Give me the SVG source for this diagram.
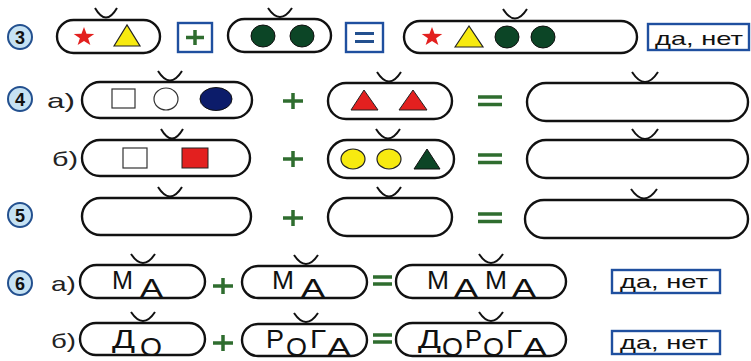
<svg xmlns="http://www.w3.org/2000/svg" width="751" height="361" viewBox="0 0 751 361">
<style>
.bg{fill:#ffffff}
.pill{fill:#ffffff;stroke:#111;stroke-width:2.4}
.cup{fill:none;stroke:#111;stroke-width:2}
.nc{fill:#c6e2f3;stroke:#23508f;stroke-width:2}
.nt{font-family:"Liberation Sans",Arial,sans-serif;font-weight:bold;font-size:18px;fill:#111;text-anchor:middle}
.lbl{font-family:"Liberation Sans",Arial,sans-serif;font-size:21px;fill:#222}
.let{font-family:"Liberation Sans",Arial,sans-serif;font-size:25px;fill:#111}
.op{fill:none;stroke:#2f6d2f;stroke-width:3.5}
.opb{fill:none;stroke:#23508f;stroke-width:3}
.box{fill:#ffffff;stroke:#1f4f9f;stroke-width:2.4}
.bt{font-family:"Liberation Sans",Arial,sans-serif;font-size:19px;fill:#111}
.red{fill:#e3201f;stroke:#222;stroke-width:1}
.yel{fill:#f7ea10;stroke:#222;stroke-width:1.2}
.dg{fill:#0c4526;stroke:#111;stroke-width:1}
.nav{fill:#0c1c6a;stroke:#111;stroke-width:1}
.wh{fill:#ffffff;stroke:#333;stroke-width:1.2}
</style>
<defs>
<path id="star" d="M0,-9 L2.12,-2.91 L8.56,-2.78 L3.42,1.11 L5.29,7.28 L0,3.6 L-5.29,7.28 L-3.42,1.11 L-8.56,-2.78 L-2.12,-2.91 Z"/>
</defs>
<rect class="bg" x="0" y="0" width="751" height="361"/>

<!-- Row 3 -->
<g id="n3">
<circle class="nc" cx="20" cy="37" r="12"/><text class="nt" x="20" y="43.5">3</text>
</g>
<g id="r3p1">
<rect class="pill" x="57" y="20" width="103" height="33" rx="16.5"/>
<path class="cup" d="M95,8 Q106,27 117,8"/>
<use href="#star" transform="translate(84,37) scale(1.2,1.1)" fill="#e3201f"/>
<polygon class="yel" points="114,46 127,25 140,46"/>
</g>
<g id="r3plus">
<rect class="box" x="178" y="23" width="34" height="29"/>
<path class="op" d="M186,37.5 H204 M195,30 V45"/>
</g>
<g id="r3p2">
<rect class="pill" x="228" y="19" width="103" height="33" rx="16.5"/>
<path class="cup" d="M268,8 Q280,26 292,8"/>
<ellipse class="dg" cx="263" cy="36" rx="12" ry="11"/>
<ellipse class="dg" cx="302" cy="36" rx="12" ry="11"/>
</g>
<g id="r3eq">
<rect class="box" x="346" y="23" width="37" height="29"/>
<path class="opb" d="M355,33.5 H374 M355,41.5 H374"/>
</g>
<g id="r3p3">
<rect class="pill" x="404" y="21" width="233" height="32" rx="16"/>
<path class="cup" d="M503,9 Q515,28 527,9"/>
<use href="#star" transform="translate(432,37) scale(1.2,1.1)" fill="#e3201f"/>
<polygon class="yel" points="455,47 469,26 483,47"/>
<ellipse class="dg" cx="507" cy="37" rx="12" ry="11"/>
<ellipse class="dg" cx="543" cy="37" rx="12" ry="11"/>
</g>
<g id="r3ans">
<rect class="box" x="648" y="24" width="101" height="26"/>
<text class="bt" x="655" y="44.5" font-size="20" textLength="88" lengthAdjust="spacingAndGlyphs">да,  нет</text>
</g>

<!-- Row 4a -->
<g id="n4">
<circle class="nc" cx="20" cy="99" r="12"/><text class="nt" x="20" y="105.5">4</text>
<text class="lbl" x="47" y="108" textLength="28" lengthAdjust="spacingAndGlyphs">а)</text>
</g>
<g id="r4ap1">
<rect class="pill" x="82" y="82" width="170" height="36" rx="18"/>
<path class="cup" d="M158,71 Q170,90 182,71"/>
<rect class="wh" x="112" y="89" width="23" height="19"/>
<ellipse class="wh" cx="166" cy="99" rx="12" ry="11"/>
<ellipse class="nav" cx="216" cy="99" rx="16" ry="11.5"/>
</g>
<g id="r4aplus"><path class="op" d="M283,101 H303 M293,93 V109"/></g>
<g id="r4ap2">
<rect class="pill" x="328" y="83" width="124" height="36" rx="18"/>
<path class="cup" d="M377,72 Q389,91 401,72"/>
<polygon class="red" points="351,110 364,90 378,110"/>
<polygon class="red" points="399,110 413,90 427,110"/>
</g>
<g id="r4aeq"><path class="op" d="M478,97 H502 M478,104.5 H502"/></g>
<g id="r4ap3">
<rect class="pill" x="527" y="83" width="221" height="38" rx="19"/>
<path class="cup" d="M632,72 Q645,92 658,72"/>
</g>

<!-- Row 4b -->
<g id="n4b"><text class="lbl" x="52" y="166" textLength="26" lengthAdjust="spacingAndGlyphs">б)</text></g>
<g id="r4bp1">
<rect class="pill" x="82" y="140" width="168" height="36" rx="18"/>
<path class="cup" d="M161,129 Q172,148 183,129"/>
<rect class="wh" x="123" y="148" width="24" height="20"/>
<rect class="red" x="182" y="148" width="26" height="20"/>
</g>
<g id="r4bplus"><path class="op" d="M283,159 H303 M293,151 V167"/></g>
<g id="r4bp2">
<rect class="pill" x="328" y="140" width="126" height="38" rx="19"/>
<path class="cup" d="M376,129 Q388,148 400,129"/>
<ellipse class="yel" cx="353" cy="159" rx="12" ry="10"/>
<ellipse class="yel" cx="389" cy="159" rx="12" ry="10"/>
<polygon class="dg" points="414,169 427,149 440,169"/>
</g>
<g id="r4beq"><path class="op" d="M478,155 H502 M478,162.5 H502"/></g>
<g id="r4bp3">
<rect class="pill" x="527" y="140" width="221" height="38" rx="19"/>
<path class="cup" d="M632,129 Q645,149 658,129"/>
</g>

<!-- Row 5 -->
<g id="n5">
<circle class="nc" cx="20" cy="215" r="12"/><text class="nt" x="20" y="221.5">5</text>
</g>
<g id="r5p1">
<rect class="pill" x="82" y="198" width="169" height="37" rx="18.5"/>
<path class="cup" d="M158,187 Q170,206 182,187"/>
</g>
<g id="r5plus"><path class="op" d="M283,218 H303 M293,210 V226"/></g>
<g id="r5p2">
<rect class="pill" x="328" y="198" width="124" height="38" rx="19"/>
<path class="cup" d="M377,187 Q389,206 401,187"/>
</g>
<g id="r5eq"><path class="op" d="M478,214 H502 M478,221.5 H502"/></g>
<g id="r5p3">
<rect class="pill" x="525" y="200" width="223" height="38" rx="19"/>
<path class="cup" d="M631,189 Q644,208 657,189"/>
</g>

<!-- Row 6a -->
<g id="n6">
<circle class="nc" cx="20" cy="283" r="12"/><text class="nt" x="20" y="289.5">6</text>
<text class="lbl" x="51" y="291" textLength="25" lengthAdjust="spacingAndGlyphs">а)</text>
</g>
<g id="r6ap1">
<rect class="pill" x="80" y="265" width="125" height="33" rx="16.5"/>
<path class="cup" d="M131,254 Q143,272 155,254"/>
<text class="let" x="112" y="289" textLength="21" lengthAdjust="spacingAndGlyphs">М</text>
<text class="let" x="140" y="296.5" textLength="23" lengthAdjust="spacingAndGlyphs">А</text>
</g>
<g id="r6aplus"><path class="op" d="M213,286 H233 M223,278 V294"/></g>
<g id="r6ap2">
<rect class="pill" x="242" y="266" width="125" height="32" rx="16"/>
<path class="cup" d="M294,255 Q306,273 318,255"/>
<text class="let" x="272" y="289" textLength="22" lengthAdjust="spacingAndGlyphs">М</text>
<text class="let" x="301" y="296.5" textLength="24" lengthAdjust="spacingAndGlyphs">А</text>
</g>
<g id="r6aeq"><path class="op" d="M373,277 H392 M373,284 H392"/></g>
<g id="r6ap3">
<rect class="pill" x="396" y="265" width="170" height="33" rx="16.5"/>
<path class="cup" d="M479,254 Q491,272 503,254"/>
<text class="let" x="427" y="289" textLength="22" lengthAdjust="spacingAndGlyphs">М</text>
<text class="let" x="454" y="296.5" textLength="24" lengthAdjust="spacingAndGlyphs">А</text>
<text class="let" x="485" y="289" textLength="22" lengthAdjust="spacingAndGlyphs">М</text>
<text class="let" x="512" y="296.5" textLength="24" lengthAdjust="spacingAndGlyphs">А</text>
</g>
<g id="r6aans">
<rect class="box" x="612" y="270" width="108" height="23"/>
<text class="bt" x="620" y="288" textLength="88" lengthAdjust="spacingAndGlyphs">да,  нет</text>
</g>

<!-- Row 6b -->
<g id="n6b"><text class="lbl" x="51" y="348" textLength="25" lengthAdjust="spacingAndGlyphs">б)</text></g>
<g id="r6bp1">
<rect class="pill" x="80" y="323" width="125" height="32" rx="16"/>
<path class="cup" d="M131,312 Q143,330 155,312"/>
<text class="let" x="112" y="348" textLength="23" lengthAdjust="spacingAndGlyphs">Д</text>
<text class="let" x="140" y="355.5" textLength="22" lengthAdjust="spacingAndGlyphs">О</text>
</g>
<g id="r6bplus"><path class="op" d="M213,343 H233 M223,335 V351"/></g>
<g id="r6bp2">
<rect class="pill" x="242" y="324" width="125" height="32" rx="16"/>
<path class="cup" d="M294,313 Q306,331 318,313"/>
<text class="let" x="266" y="348" textLength="18" lengthAdjust="spacingAndGlyphs">Р</text>
<text class="let" x="286" y="355.5" textLength="21" lengthAdjust="spacingAndGlyphs">О</text>
<text class="let" x="310" y="348" textLength="16" lengthAdjust="spacingAndGlyphs">Г</text>
<text class="let" x="327" y="355.5" textLength="24" lengthAdjust="spacingAndGlyphs">А</text>
</g>
<g id="r6beq"><path class="op" d="M373,335 H392 M373,342 H392"/></g>
<g id="r6bp3">
<rect class="pill" x="396" y="323" width="170" height="33" rx="16.5"/>
<path class="cup" d="M479,312 Q491,330 503,312"/>
<text class="let" x="418" y="348" textLength="23" lengthAdjust="spacingAndGlyphs">Д</text>
<text class="let" x="442" y="355.5" textLength="21" lengthAdjust="spacingAndGlyphs">О</text>
<text class="let" x="465" y="348" textLength="17" lengthAdjust="spacingAndGlyphs">Р</text>
<text class="let" x="483" y="355.5" textLength="21" lengthAdjust="spacingAndGlyphs">О</text>
<text class="let" x="506" y="348" textLength="16" lengthAdjust="spacingAndGlyphs">Г</text>
<text class="let" x="523" y="355.5" textLength="24" lengthAdjust="spacingAndGlyphs">А</text>
</g>
<g id="r6bans">
<rect class="box" x="612" y="331" width="108" height="23"/>
<text class="bt" x="620" y="349" textLength="88" lengthAdjust="spacingAndGlyphs">да,  нет</text>
</g>
</svg>
